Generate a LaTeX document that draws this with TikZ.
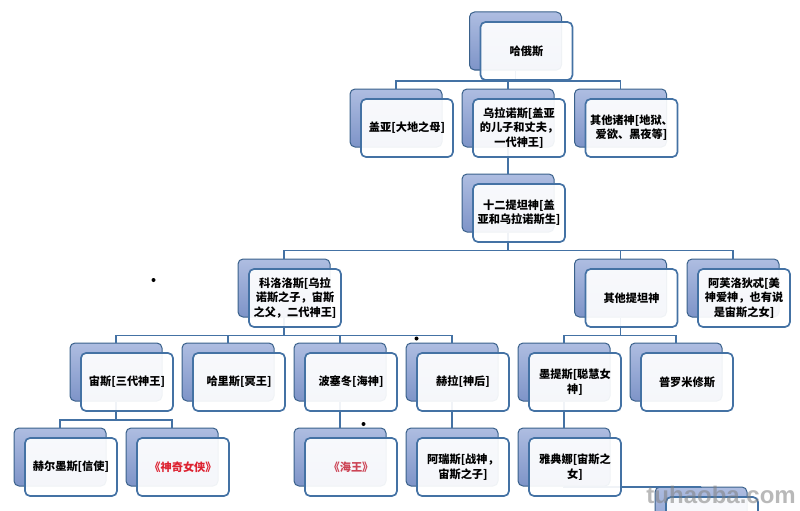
\documentclass[tikz,border=0pt]{standalone}
\usepackage{fontspec}
\setmainfont{Noto Sans CJK SC}
\setsansfont{Liberation Sans}
\usetikzlibrary{calc}

\definecolor{godline}{HTML}{4472A4}
\definecolor{godtop}{HTML}{AEBDE1}
\definecolor{godbot}{HTML}{7E94C8}
\definecolor{godred}{HTML}{DD2230}
\definecolor{seared}{HTML}{CC4455}

\tikzset{
  backbox/.style={rectangle,rounded corners=5pt,draw=godline!85!black,line width=1pt,
    top color=godtop,bottom color=godbot,minimum width=92pt,minimum height=58pt,inner sep=0pt},
  frontbox/.style={rectangle,rounded corners=5pt,draw=godline,line width=1.7pt,
    fill=white,fill opacity=0.92,text opacity=1,minimum width=92pt,minimum height=58pt,inner sep=0pt,
    align=center,font=\fontsize{11.2}{14.3}\selectfont\bfseries},
  godlink/.style={draw=godline,line width=1.7pt},
  blackdot/.style={circle,fill=black,inner sep=0pt,minimum size=4pt},
  stamp/.style={font=\fontsize{24}{24}\selectfont\sffamily\bfseries,text=gray,opacity=0.55,inner sep=0pt}
}

\begin{document}
\begin{tikzpicture}[x=1pt,y=-1pt]
\useasboundingbox (0,0) rectangle (800,511);
\clip (0,0) rectangle (800,511);
\def\godlist{
  chaos/515.5/41/哈俄斯,
  gaia/396/118/盖亚[大地之母],
  uranus/508/118/{乌拉诺斯[盖亚\\的儿子和丈夫，\\一代神王]},
  others/620.5/118/{其他诸神[地狱、\\爱欲、黑夜等]},
  titans/508/203/{十二提坦神[盖\\亚和乌拉诺斯生]},
  cronus/284/288/{科洛洛斯[乌拉\\诺斯之子，宙斯\\之父，二代神王]},
  restitans/620.5/288/其他提坦神,
  aphrodite/733/288/{阿芙洛狄忒[美\\神爱神，也有说\\是宙斯之女]},
  zeus/116/372/宙斯[三代神王],
  pluto/228/372/哈里斯[冥王],
  poseidon/340/372/波塞冬[海神],
  hera/452/372/赫拉[神后],
  metis/564/372/{墨提斯[聪慧女\\神]},
  prometheus/676/372/普罗米修斯,
  hermes/60/457/赫尔墨斯[信使],
  wonder/172/457/{\textcolor{godred}{《神奇女侠》}},
  aquaman/340/457/{\textcolor{seared}{《海王》}},
  ares/452/457/{阿瑞斯[战神，\\宙斯之子]},
  athena/564/457/{雅典娜[宙斯之\\女]},
  last/701/516/{}}

% back boxes first, links over them, front boxes last
\foreach \n/\x/\y/\txt in \godlist
  \node[backbox] (\n-b) at (\x,\y) {};

\foreach \p/\c/\bus in {chaos/gaia/81,chaos/uranus/81,chaos/others/81,
    uranus/titans/165,titans/cronus/250.5,titans/restitans/250.5,titans/aphrodite/250.5,
    cronus/zeus/335.5,cronus/pluto/335.5,cronus/poseidon/335.5,cronus/hera/335.5,
    restitans/metis/335.5,restitans/prometheus/335.5,
    zeus/hermes/420,zeus/wonder/420,poseidon/aquaman/420,hera/ares/420,metis/athena/420,
    athena/last/487}
  \draw[godlink] (\p-b.south) -- (\p-b.south |- 0,\bus) -| (\c-b.north);

\foreach \n/\x/\y/\txt in \godlist
  \node[frontbox] (\n) at ($(\n-b)+(11,10)$) {\txt};

\node[blackdot] (dota) at (153.5,280) {};
\node[blackdot] (dotb) at (416.5,338.5) {};
\node[blackdot] (dotc) at (363.5,424) {};
\node[stamp,anchor=base east] (mark) at (796,503) {tuhaoba.com};
\end{tikzpicture}
\end{document}
